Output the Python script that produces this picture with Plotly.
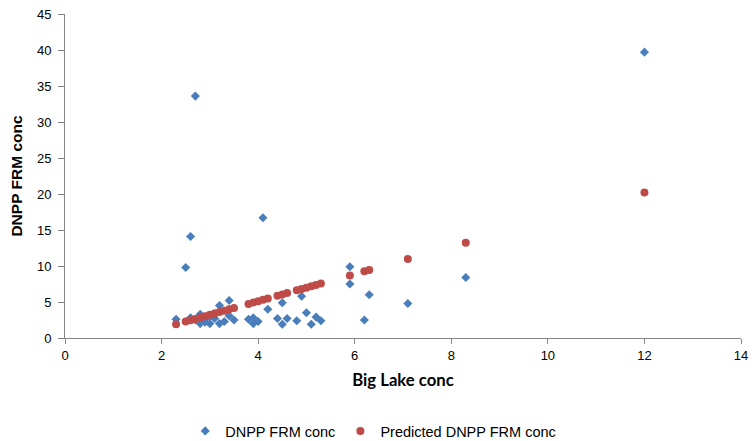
import plotly.graph_objects as go

# Observed DNPP FRM conc vs Big Lake conc
big_lake = [2.3, 2.5, 2.6, 2.6, 2.7, 2.7, 2.8, 2.8, 2.9, 2.9, 3.0, 3.0, 3.1, 3.1,
            3.2, 3.2, 3.3, 3.4, 3.4, 3.5, 3.8, 3.9, 3.9, 4.0, 4.1, 4.2, 4.4, 4.5,
            4.5, 4.6, 4.8, 4.9, 5.0, 5.1, 5.2, 5.3, 5.9, 5.9, 6.2, 6.3, 7.1, 8.3, 12.0]
dnpp_frm = [2.6, 9.8, 14.1, 2.8, 33.6, 2.5, 3.3, 2.0, 2.6, 2.2, 2.0, 3.0, 2.7, 3.4,
            4.5, 2.0, 2.3, 5.2, 3.1, 2.5, 2.6, 2.8, 2.0, 2.3, 16.7, 4.0, 2.7, 4.9,
            1.9, 2.7, 2.4, 5.8, 3.5, 1.9, 2.9, 2.4, 9.9, 7.5, 2.5, 6.0, 4.8, 8.4, 39.7]

# Predicted DNPP FRM conc
pred_x = [2.3, 2.5, 2.6, 2.7, 2.8, 2.9, 3.0, 3.1, 3.2, 3.3, 3.4, 3.5, 3.8, 3.9,
          4.0, 4.1, 4.2, 4.4, 4.5, 4.6, 4.8, 4.9, 5.0, 5.1, 5.2, 5.3, 5.9, 6.2,
          6.3, 7.1, 8.3, 12.0]
pred_y = [1.90, 2.28, 2.47, 2.65, 2.84, 3.03, 3.22, 3.41, 3.60, 3.79, 3.98, 4.16,
          4.73, 4.92, 5.11, 5.30, 5.49, 5.86, 6.05, 6.24, 6.62, 6.81, 6.99, 7.18,
          7.37, 7.56, 8.69, 9.26, 9.45, 10.96, 13.22, 20.20]

x_ticks = [0, 2, 4, 6, 8, 10, 12, 14]
y_ticks = [0, 5, 10, 15, 20, 25, 30, 35, 40, 45]

fig = go.Figure()
fig.add_trace(go.Scatter(
    x=big_lake, y=dnpp_frm, mode="markers", name="DNPP FRM conc",
    marker=dict(symbol="diamond", size=7, color="#4A7EBB"),
))
fig.add_trace(go.Scatter(
    x=pred_x, y=pred_y, mode="markers", name="Predicted DNPP FRM conc",
    marker=dict(symbol="circle", size=8, color="#BE4B48"),
))

axis_common = dict(
    showgrid=False, zeroline=False, showline=True, linecolor="#868686",
    linewidth=1, ticks="outside", tickcolor="#868686",
    automargin=False,
    tickfont=dict(family="Liberation Sans, Arial", size=13, color="#000000"),
)

fig.update_layout(
    width=754, height=441,
    margin=dict(l=65, r=13, t=14, b=103, autoexpand=False),
    paper_bgcolor="white", plot_bgcolor="white",
    xaxis=dict(range=[0, 14], tickvals=x_ticks, ticktext=[str(v) for v in x_ticks],
               ticklen=5,
               title=dict(text="<b>Big Lake conc</b>", standoff=12,
                          font=dict(family="Lato, Carlito, Calibri", size=16.7, color="#000000")),
               **axis_common),
    yaxis=dict(range=[0, 45], tickvals=y_ticks, ticktext=[str(v) for v in y_ticks],
               ticklen=6, ticklabelstandoff=4,
               title=dict(text="<b>DNPP FRM conc</b>", standoff=10,
                          font=dict(family="Liberation Sans, Arial", size=15.5, color="#000000")),
               **axis_common),
    legend=dict(orientation="h", x=0.456, xanchor="center", y=-0.287, yanchor="middle",
                font=dict(family="Liberation Sans, Arial", size=14.5, color="#000000"),
                itemwidth=30, bgcolor="rgba(0,0,0,0)"),
    showlegend=True,
)

fig.write_html("out.html")
